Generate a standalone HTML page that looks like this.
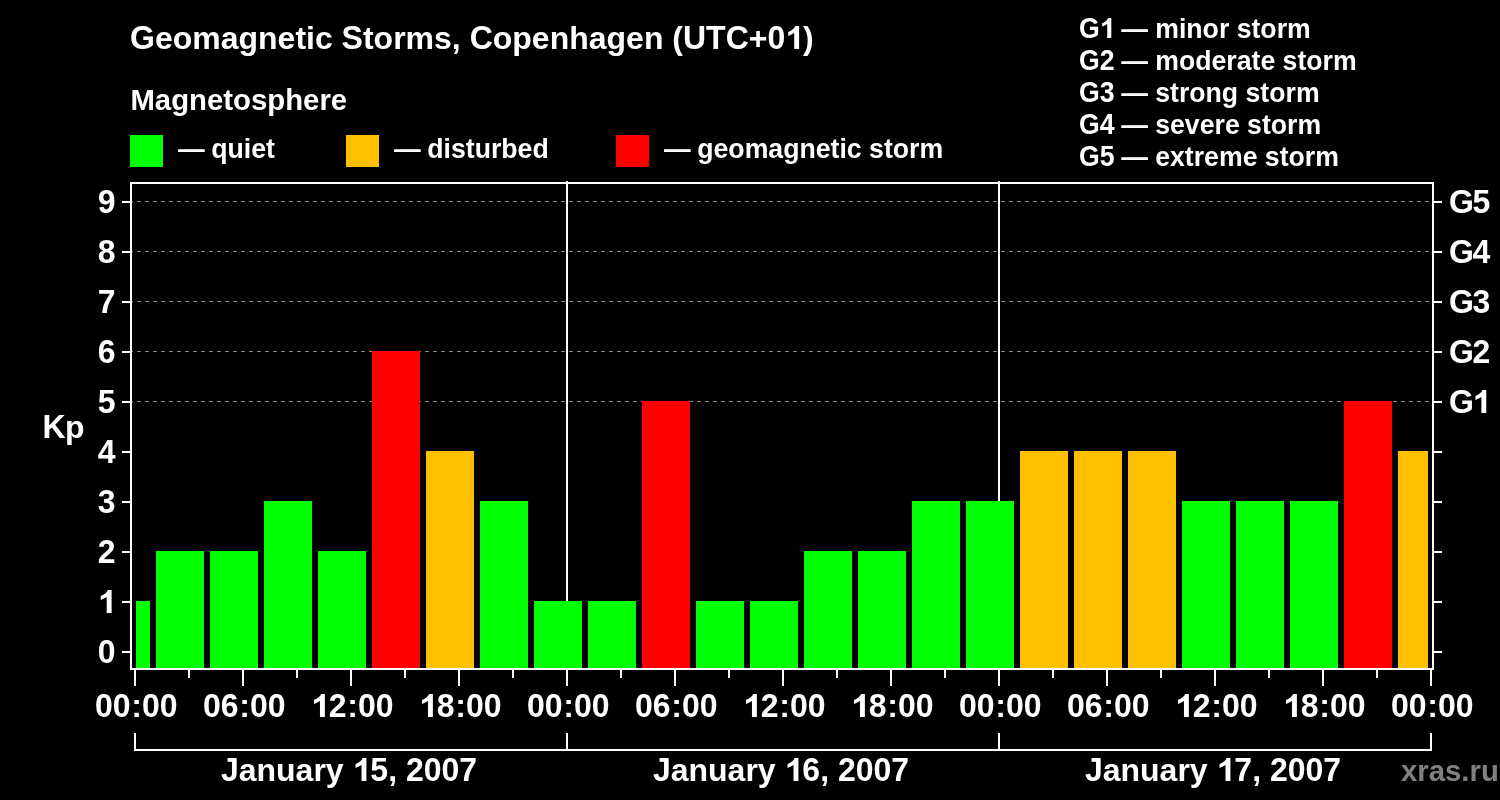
<!DOCTYPE html>
<html><head><meta charset="utf-8"><style>
html,body{margin:0;padding:0;background:#000;width:1500px;height:800px;overflow:hidden}
svg{display:block;will-change:transform}
text{font-family:'Liberation Sans',sans-serif;font-weight:bold}
</style></head><body>
<svg width="1500" height="800" viewBox="0 0 1500 800" shape-rendering="crispEdges">
<line x1="130" y1="401.5" x2="1432" y2="401.5" stroke="#888" stroke-width="1" stroke-dasharray="4 4" stroke-dashoffset="-7"/>
<line x1="130" y1="351.5" x2="1432" y2="351.5" stroke="#888" stroke-width="1" stroke-dasharray="4 4" stroke-dashoffset="-7"/>
<line x1="130" y1="301.5" x2="1432" y2="301.5" stroke="#888" stroke-width="1" stroke-dasharray="4 4" stroke-dashoffset="-7"/>
<line x1="130" y1="251.5" x2="1432" y2="251.5" stroke="#888" stroke-width="1" stroke-dasharray="4 4" stroke-dashoffset="-7"/>
<line x1="130" y1="201.5" x2="1432" y2="201.5" stroke="#888" stroke-width="1" stroke-dasharray="4 4" stroke-dashoffset="-7"/>
<rect x="566" y="181" width="2" height="487" fill="#ffffff"/>
<rect x="998" y="181" width="2" height="487" fill="#ffffff"/>
<rect x="136" y="601" width="14" height="67" fill="#00ff00"/>
<rect x="156" y="551" width="48" height="117" fill="#00ff00"/>
<rect x="210" y="551" width="48" height="117" fill="#00ff00"/>
<rect x="264" y="501" width="48" height="167" fill="#00ff00"/>
<rect x="318" y="551" width="48" height="117" fill="#00ff00"/>
<rect x="372" y="351" width="48" height="317" fill="#ff0000"/>
<rect x="426" y="451" width="48" height="217" fill="#ffc000"/>
<rect x="480" y="501" width="48" height="167" fill="#00ff00"/>
<rect x="534" y="601" width="48" height="67" fill="#00ff00"/>
<rect x="588" y="601" width="48" height="67" fill="#00ff00"/>
<rect x="642" y="401" width="48" height="267" fill="#ff0000"/>
<rect x="696" y="601" width="48" height="67" fill="#00ff00"/>
<rect x="750" y="601" width="48" height="67" fill="#00ff00"/>
<rect x="804" y="551" width="48" height="117" fill="#00ff00"/>
<rect x="858" y="551" width="48" height="117" fill="#00ff00"/>
<rect x="912" y="501" width="48" height="167" fill="#00ff00"/>
<rect x="966" y="501" width="48" height="167" fill="#00ff00"/>
<rect x="1020" y="451" width="48" height="217" fill="#ffc000"/>
<rect x="1074" y="451" width="48" height="217" fill="#ffc000"/>
<rect x="1128" y="451" width="48" height="217" fill="#ffc000"/>
<rect x="1182" y="501" width="48" height="167" fill="#00ff00"/>
<rect x="1236" y="501" width="48" height="167" fill="#00ff00"/>
<rect x="1290" y="501" width="48" height="167" fill="#00ff00"/>
<rect x="1344" y="401" width="48" height="267" fill="#ff0000"/>
<rect x="1398" y="451" width="30" height="217" fill="#ffc000"/>
<rect x="130" y="182" width="1304" height="2" fill="#ffffff"/>
<rect x="130" y="668" width="1304" height="2" fill="#ffffff"/>
<rect x="130" y="182" width="2" height="488" fill="#ffffff"/>
<rect x="1432" y="182" width="2" height="488" fill="#ffffff"/>
<rect x="122" y="651" width="8" height="2" fill="#ffffff"/>
<rect x="1434" y="651" width="8" height="2" fill="#ffffff"/>
<rect x="122" y="601" width="8" height="2" fill="#ffffff"/>
<rect x="1434" y="601" width="8" height="2" fill="#ffffff"/>
<rect x="122" y="551" width="8" height="2" fill="#ffffff"/>
<rect x="1434" y="551" width="8" height="2" fill="#ffffff"/>
<rect x="122" y="501" width="8" height="2" fill="#ffffff"/>
<rect x="1434" y="501" width="8" height="2" fill="#ffffff"/>
<rect x="122" y="451" width="8" height="2" fill="#ffffff"/>
<rect x="1434" y="451" width="8" height="2" fill="#ffffff"/>
<rect x="122" y="401" width="8" height="2" fill="#ffffff"/>
<rect x="1434" y="401" width="8" height="2" fill="#ffffff"/>
<rect x="122" y="351" width="8" height="2" fill="#ffffff"/>
<rect x="1434" y="351" width="8" height="2" fill="#ffffff"/>
<rect x="122" y="301" width="8" height="2" fill="#ffffff"/>
<rect x="1434" y="301" width="8" height="2" fill="#ffffff"/>
<rect x="122" y="251" width="8" height="2" fill="#ffffff"/>
<rect x="1434" y="251" width="8" height="2" fill="#ffffff"/>
<rect x="122" y="201" width="8" height="2" fill="#ffffff"/>
<rect x="1434" y="201" width="8" height="2" fill="#ffffff"/>
<rect x="134" y="670" width="2" height="16" fill="#ffffff"/>
<rect x="188" y="670" width="2" height="8" fill="#ffffff"/>
<rect x="242" y="670" width="2" height="16" fill="#ffffff"/>
<rect x="296" y="670" width="2" height="8" fill="#ffffff"/>
<rect x="350" y="670" width="2" height="16" fill="#ffffff"/>
<rect x="404" y="670" width="2" height="8" fill="#ffffff"/>
<rect x="458" y="670" width="2" height="16" fill="#ffffff"/>
<rect x="512" y="670" width="2" height="8" fill="#ffffff"/>
<rect x="566" y="670" width="2" height="16" fill="#ffffff"/>
<rect x="620" y="670" width="2" height="8" fill="#ffffff"/>
<rect x="674" y="670" width="2" height="16" fill="#ffffff"/>
<rect x="728" y="670" width="2" height="8" fill="#ffffff"/>
<rect x="782" y="670" width="2" height="16" fill="#ffffff"/>
<rect x="836" y="670" width="2" height="8" fill="#ffffff"/>
<rect x="890" y="670" width="2" height="16" fill="#ffffff"/>
<rect x="944" y="670" width="2" height="8" fill="#ffffff"/>
<rect x="998" y="670" width="2" height="16" fill="#ffffff"/>
<rect x="1052" y="670" width="2" height="8" fill="#ffffff"/>
<rect x="1106" y="670" width="2" height="16" fill="#ffffff"/>
<rect x="1160" y="670" width="2" height="8" fill="#ffffff"/>
<rect x="1214" y="670" width="2" height="16" fill="#ffffff"/>
<rect x="1268" y="670" width="2" height="8" fill="#ffffff"/>
<rect x="1322" y="670" width="2" height="16" fill="#ffffff"/>
<rect x="1376" y="670" width="2" height="8" fill="#ffffff"/>
<rect x="1430" y="670" width="2" height="16" fill="#ffffff"/>
<rect x="134" y="749" width="1298" height="2" fill="#ffffff"/>
<rect x="134" y="733" width="2" height="18" fill="#ffffff"/>
<rect x="566" y="733" width="2" height="18" fill="#ffffff"/>
<rect x="998" y="733" width="2" height="18" fill="#ffffff"/>
<rect x="1430" y="733" width="2" height="18" fill="#ffffff"/>
<rect x="130" y="135" width="33" height="32" fill="#00ff00"/>
<rect x="346" y="135" width="33" height="32" fill="#ffc000"/>
<rect x="616" y="135" width="33" height="32" fill="#ff0000"/>
<text transform="translate(130,49) scale(1,1.04)" font-size="32" fill="#ffffff">G</text>
<text transform="translate(154.891,49) scale(1,0.98)" font-size="32" fill="#ffffff">e</text>
<text transform="translate(172.688,49) scale(1,0.98)" font-size="32" fill="#ffffff">o</text>
<text transform="translate(192.234,49) scale(1,0.98)" font-size="32" fill="#ffffff">m</text>
<text transform="translate(220.688,49) scale(1,0.98)" font-size="32" fill="#ffffff">a</text>
<text transform="translate(238.484,49) scale(1,0.98)" font-size="32" fill="#ffffff">g</text>
<text transform="translate(258.031,49) scale(1,0.98)" font-size="32" fill="#ffffff">n</text>
<text transform="translate(277.578,49) scale(1,0.98)" font-size="32" fill="#ffffff">e</text>
<text transform="translate(295.375,49) scale(1,0.98)" font-size="32" fill="#ffffff">t</text>
<text transform="translate(306.031,49) scale(1,0.98)" font-size="32" fill="#ffffff">i</text>
<text transform="translate(314.922,49) scale(1,0.98)" font-size="32" fill="#ffffff">c</text>
<text transform="translate(341.609,49) scale(1,1.04)" font-size="32" fill="#ffffff">S</text>
<text transform="translate(362.953,49) scale(1,0.98)" font-size="32" fill="#ffffff">t</text>
<text transform="translate(373.609,49) scale(1,0.98)" font-size="32" fill="#ffffff">o</text>
<text transform="translate(393.156,49) scale(1,0.98)" font-size="32" fill="#ffffff">r</text>
<text transform="translate(405.609,49) scale(1,0.98)" font-size="32" fill="#ffffff">m</text>
<text transform="translate(434.062,49) scale(1,0.98)" font-size="32" fill="#ffffff">s</text>
<text transform="translate(451.859,49) scale(1,0.98)" font-size="32" fill="#ffffff">,</text>
<text transform="translate(469.641,49) scale(1,1.04)" font-size="32" fill="#ffffff">C</text>
<text transform="translate(492.75,49) scale(1,0.98)" font-size="32" fill="#ffffff">o</text>
<text transform="translate(512.297,49) scale(1,0.98)" font-size="32" fill="#ffffff">p</text>
<text transform="translate(531.844,49) scale(1,0.98)" font-size="32" fill="#ffffff">e</text>
<text transform="translate(549.641,49) scale(1,0.98)" font-size="32" fill="#ffffff">n</text>
<text transform="translate(569.188,49) scale(1,0.98)" font-size="32" fill="#ffffff">h</text>
<text transform="translate(588.734,49) scale(1,0.98)" font-size="32" fill="#ffffff">a</text>
<text transform="translate(606.531,49) scale(1,0.98)" font-size="32" fill="#ffffff">g</text>
<text transform="translate(626.078,49) scale(1,0.98)" font-size="32" fill="#ffffff">e</text>
<text transform="translate(643.875,49) scale(1,0.98)" font-size="32" fill="#ffffff">n</text>
<text transform="translate(672.312,49) scale(1,0.98)" font-size="32" fill="#ffffff">(</text>
<text transform="translate(682.969,49) scale(1,1.04)" font-size="32" fill="#ffffff">U</text>
<text transform="translate(706.078,49) scale(1,1.04)" font-size="32" fill="#ffffff">T</text>
<text transform="translate(725.625,49) scale(1,1.04)" font-size="32" fill="#ffffff">C</text>
<text transform="translate(748.734,49) scale(1,0.98)" font-size="32" fill="#ffffff">+</text>
<text transform="translate(767.422,49) scale(1,1.04)" font-size="32" fill="#ffffff">0</text>
<path transform="translate(785.219,49) scale(0.01562,-0.01625)" fill="#ffffff" shape-rendering="geometricPrecision" d="M575,0L890,0L890,1409L650,1409Q560,1180 194,1040L194,800Q420,880 575,980Z"/>
<text transform="translate(803.016,49) scale(1,0.98)" font-size="32" fill="#ffffff">)</text>
<text transform="translate(130.4,110) scale(1,0.99)" font-size="29.333" fill="#ffffff">M</text>
<text transform="translate(154.822,110) scale(1,0.98)" font-size="29.333" fill="#ffffff">a</text>
<text transform="translate(171.134,110) scale(1,0.98)" font-size="29.333" fill="#ffffff">g</text>
<text transform="translate(189.056,110) scale(1,0.98)" font-size="29.333" fill="#ffffff">n</text>
<text transform="translate(206.963,110) scale(1,0.98)" font-size="29.333" fill="#ffffff">e</text>
<text transform="translate(223.275,110) scale(1,0.98)" font-size="29.333" fill="#ffffff">t</text>
<text transform="translate(233.041,110) scale(1,0.98)" font-size="29.333" fill="#ffffff">o</text>
<text transform="translate(250.963,110) scale(1,0.98)" font-size="29.333" fill="#ffffff">s</text>
<text transform="translate(267.259,110) scale(1,0.98)" font-size="29.333" fill="#ffffff">p</text>
<text transform="translate(285.181,110) scale(1,0.98)" font-size="29.333" fill="#ffffff">h</text>
<text transform="translate(303.103,110) scale(1,0.98)" font-size="29.333" fill="#ffffff">e</text>
<text transform="translate(319.4,110) scale(1,0.98)" font-size="29.333" fill="#ffffff">r</text>
<text transform="translate(330.822,110) scale(1,0.98)" font-size="29.333" fill="#ffffff">e</text>
<text transform="translate(178,158) scale(1,1.05)" font-size="26.667" fill="#ffffff">—</text>
<text transform="translate(211.247,158) scale(1,1.05)" font-size="26.667" fill="#ffffff">q</text>
<text transform="translate(227.544,158) scale(1,1.05)" font-size="26.667" fill="#ffffff">u</text>
<text transform="translate(243.825,158) scale(1,1.05)" font-size="26.667" fill="#ffffff">i</text>
<text transform="translate(251.231,158) scale(1,1.05)" font-size="26.667" fill="#ffffff">e</text>
<text transform="translate(266.044,158) scale(1,1.05)" font-size="26.667" fill="#ffffff">t</text>
<text transform="translate(394,158) scale(1,1.05)" font-size="26.667" fill="#ffffff">—</text>
<text transform="translate(427.247,158) scale(1,1.05)" font-size="26.667" fill="#ffffff">d</text>
<text transform="translate(443.544,158) scale(1,1.05)" font-size="26.667" fill="#ffffff">i</text>
<text transform="translate(450.95,158) scale(1,1.05)" font-size="26.667" fill="#ffffff">s</text>
<text transform="translate(465.762,158) scale(1,1.05)" font-size="26.667" fill="#ffffff">t</text>
<text transform="translate(474.637,158) scale(1,1.05)" font-size="26.667" fill="#ffffff">u</text>
<text transform="translate(490.934,158) scale(1,1.05)" font-size="26.667" fill="#ffffff">r</text>
<text transform="translate(501.294,158) scale(1,1.05)" font-size="26.667" fill="#ffffff">b</text>
<text transform="translate(517.591,158) scale(1,1.05)" font-size="26.667" fill="#ffffff">e</text>
<text transform="translate(532.403,158) scale(1,1.05)" font-size="26.667" fill="#ffffff">d</text>
<text transform="translate(664,158) scale(1,1.05)" font-size="26.667" fill="#ffffff">—</text>
<text transform="translate(697.247,158) scale(1,1.05)" font-size="26.667" fill="#ffffff">g</text>
<text transform="translate(713.544,158) scale(1,1.05)" font-size="26.667" fill="#ffffff">e</text>
<text transform="translate(728.356,158) scale(1,1.05)" font-size="26.667" fill="#ffffff">o</text>
<text transform="translate(744.638,158) scale(1,1.05)" font-size="26.667" fill="#ffffff">m</text>
<text transform="translate(768.341,158) scale(1,1.05)" font-size="26.667" fill="#ffffff">a</text>
<text transform="translate(783.169,158) scale(1,1.05)" font-size="26.667" fill="#ffffff">g</text>
<text transform="translate(799.45,158) scale(1,1.05)" font-size="26.667" fill="#ffffff">n</text>
<text transform="translate(815.731,158) scale(1,1.05)" font-size="26.667" fill="#ffffff">e</text>
<text transform="translate(830.559,158) scale(1,1.05)" font-size="26.667" fill="#ffffff">t</text>
<text transform="translate(839.434,158) scale(1,1.05)" font-size="26.667" fill="#ffffff">i</text>
<text transform="translate(846.841,158) scale(1,1.05)" font-size="26.667" fill="#ffffff">c</text>
<text transform="translate(869.075,158) scale(1,1.05)" font-size="26.667" fill="#ffffff">s</text>
<text transform="translate(883.903,158) scale(1,1.05)" font-size="26.667" fill="#ffffff">t</text>
<text transform="translate(892.778,158) scale(1,1.05)" font-size="26.667" fill="#ffffff">o</text>
<text transform="translate(909.059,158) scale(1,1.05)" font-size="26.667" fill="#ffffff">r</text>
<text transform="translate(919.434,158) scale(1,1.05)" font-size="26.667" fill="#ffffff">m</text>
<text transform="translate(1079,38) scale(1,1.09)" font-size="26.667" fill="#ffffff">G</text>
<path transform="translate(1099.719,38) scale(0.01302,-0.01419)" fill="#ffffff" shape-rendering="geometricPrecision" d="M575,0L890,0L890,1409L650,1409Q560,1180 194,1040L194,800Q420,880 575,980Z"/>
<text transform="translate(1121.153,38) scale(1,1.047)" font-size="26.667" fill="#ffffff">—</text>
<text transform="translate(1155.216,38) scale(1,1.047)" font-size="26.667" fill="#ffffff">m</text>
<text transform="translate(1178.919,38) scale(1,1.047)" font-size="26.667" fill="#ffffff">i</text>
<text transform="translate(1186.325,38) scale(1,1.047)" font-size="26.667" fill="#ffffff">n</text>
<text transform="translate(1202.606,38) scale(1,1.047)" font-size="26.667" fill="#ffffff">o</text>
<text transform="translate(1218.888,38) scale(1,1.047)" font-size="26.667" fill="#ffffff">r</text>
<text transform="translate(1236.669,38) scale(1,1.047)" font-size="26.667" fill="#ffffff">s</text>
<text transform="translate(1251.497,38) scale(1,1.047)" font-size="26.667" fill="#ffffff">t</text>
<text transform="translate(1260.372,38) scale(1,1.047)" font-size="26.667" fill="#ffffff">o</text>
<text transform="translate(1276.653,38) scale(1,1.047)" font-size="26.667" fill="#ffffff">r</text>
<text transform="translate(1287.028,38) scale(1,1.047)" font-size="26.667" fill="#ffffff">m</text>
<text transform="translate(1079,70) scale(1,1.09)" font-size="26.667" fill="#ffffff">G</text>
<text transform="translate(1099.719,70) scale(1,1.09)" font-size="26.667" fill="#ffffff">2</text>
<text transform="translate(1121.153,70) scale(1,1.047)" font-size="26.667" fill="#ffffff">—</text>
<text transform="translate(1155.216,70) scale(1,1.047)" font-size="26.667" fill="#ffffff">m</text>
<text transform="translate(1178.919,70) scale(1,1.047)" font-size="26.667" fill="#ffffff">o</text>
<text transform="translate(1195.2,70) scale(1,1.047)" font-size="26.667" fill="#ffffff">d</text>
<text transform="translate(1211.481,70) scale(1,1.047)" font-size="26.667" fill="#ffffff">e</text>
<text transform="translate(1226.309,70) scale(1,1.047)" font-size="26.667" fill="#ffffff">r</text>
<text transform="translate(1236.684,70) scale(1,1.047)" font-size="26.667" fill="#ffffff">a</text>
<text transform="translate(1251.513,70) scale(1,1.047)" font-size="26.667" fill="#ffffff">t</text>
<text transform="translate(1260.388,70) scale(1,1.047)" font-size="26.667" fill="#ffffff">e</text>
<text transform="translate(1282.622,70) scale(1,1.047)" font-size="26.667" fill="#ffffff">s</text>
<text transform="translate(1297.45,70) scale(1,1.047)" font-size="26.667" fill="#ffffff">t</text>
<text transform="translate(1306.325,70) scale(1,1.047)" font-size="26.667" fill="#ffffff">o</text>
<text transform="translate(1322.606,70) scale(1,1.047)" font-size="26.667" fill="#ffffff">r</text>
<text transform="translate(1332.981,70) scale(1,1.047)" font-size="26.667" fill="#ffffff">m</text>
<text transform="translate(1079,102) scale(1,1.09)" font-size="26.667" fill="#ffffff">G</text>
<text transform="translate(1099.719,102) scale(1,1.09)" font-size="26.667" fill="#ffffff">3</text>
<text transform="translate(1121.153,102) scale(1,1.047)" font-size="26.667" fill="#ffffff">—</text>
<text transform="translate(1155.216,102) scale(1,1.047)" font-size="26.667" fill="#ffffff">s</text>
<text transform="translate(1170.044,102) scale(1,1.047)" font-size="26.667" fill="#ffffff">t</text>
<text transform="translate(1178.919,102) scale(1,1.047)" font-size="26.667" fill="#ffffff">r</text>
<text transform="translate(1189.294,102) scale(1,1.047)" font-size="26.667" fill="#ffffff">o</text>
<text transform="translate(1205.575,102) scale(1,1.047)" font-size="26.667" fill="#ffffff">n</text>
<text transform="translate(1221.856,102) scale(1,1.047)" font-size="26.667" fill="#ffffff">g</text>
<text transform="translate(1245.544,102) scale(1,1.047)" font-size="26.667" fill="#ffffff">s</text>
<text transform="translate(1260.372,102) scale(1,1.047)" font-size="26.667" fill="#ffffff">t</text>
<text transform="translate(1269.247,102) scale(1,1.047)" font-size="26.667" fill="#ffffff">o</text>
<text transform="translate(1285.528,102) scale(1,1.047)" font-size="26.667" fill="#ffffff">r</text>
<text transform="translate(1295.903,102) scale(1,1.047)" font-size="26.667" fill="#ffffff">m</text>
<text transform="translate(1079,134) scale(1,1.09)" font-size="26.667" fill="#ffffff">G</text>
<text transform="translate(1099.719,134) scale(1,1.09)" font-size="26.667" fill="#ffffff">4</text>
<text transform="translate(1121.153,134) scale(1,1.047)" font-size="26.667" fill="#ffffff">—</text>
<text transform="translate(1155.216,134) scale(1,1.047)" font-size="26.667" fill="#ffffff">s</text>
<text transform="translate(1170.044,134) scale(1,1.047)" font-size="26.667" fill="#ffffff">e</text>
<text transform="translate(1184.872,134) scale(1,1.047)" font-size="26.667" fill="#ffffff">v</text>
<text transform="translate(1199.7,134) scale(1,1.047)" font-size="26.667" fill="#ffffff">e</text>
<text transform="translate(1214.513,134) scale(1,1.047)" font-size="26.667" fill="#ffffff">r</text>
<text transform="translate(1224.888,134) scale(1,1.047)" font-size="26.667" fill="#ffffff">e</text>
<text transform="translate(1247.122,134) scale(1,1.047)" font-size="26.667" fill="#ffffff">s</text>
<text transform="translate(1261.95,134) scale(1,1.047)" font-size="26.667" fill="#ffffff">t</text>
<text transform="translate(1270.825,134) scale(1,1.047)" font-size="26.667" fill="#ffffff">o</text>
<text transform="translate(1287.106,134) scale(1,1.047)" font-size="26.667" fill="#ffffff">r</text>
<text transform="translate(1297.481,134) scale(1,1.047)" font-size="26.667" fill="#ffffff">m</text>
<text transform="translate(1079,166) scale(1,1.09)" font-size="26.667" fill="#ffffff">G</text>
<text transform="translate(1099.719,166) scale(1,1.09)" font-size="26.667" fill="#ffffff">5</text>
<text transform="translate(1121.153,166) scale(1,1.047)" font-size="26.667" fill="#ffffff">—</text>
<text transform="translate(1155.216,166) scale(1,1.047)" font-size="26.667" fill="#ffffff">e</text>
<text transform="translate(1170.044,166) scale(1,1.047)" font-size="26.667" fill="#ffffff">x</text>
<text transform="translate(1184.872,166) scale(1,1.047)" font-size="26.667" fill="#ffffff">t</text>
<text transform="translate(1193.747,166) scale(1,1.047)" font-size="26.667" fill="#ffffff">r</text>
<text transform="translate(1204.122,166) scale(1,1.047)" font-size="26.667" fill="#ffffff">e</text>
<text transform="translate(1218.95,166) scale(1,1.047)" font-size="26.667" fill="#ffffff">m</text>
<text transform="translate(1242.653,166) scale(1,1.047)" font-size="26.667" fill="#ffffff">e</text>
<text transform="translate(1264.872,166) scale(1,1.047)" font-size="26.667" fill="#ffffff">s</text>
<text transform="translate(1279.7,166) scale(1,1.047)" font-size="26.667" fill="#ffffff">t</text>
<text transform="translate(1288.575,166) scale(1,1.047)" font-size="26.667" fill="#ffffff">o</text>
<text transform="translate(1304.856,166) scale(1,1.047)" font-size="26.667" fill="#ffffff">r</text>
<text transform="translate(1315.231,166) scale(1,1.047)" font-size="26.667" fill="#ffffff">m</text>
<text transform="translate(97.703,663) scale(1,1.04)" font-size="32" fill="#ffffff">0</text>
<path transform="translate(97.703,613) scale(0.01562,-0.01625)" fill="#ffffff" shape-rendering="geometricPrecision" d="M575,0L890,0L890,1409L650,1409Q560,1180 194,1040L194,800Q420,880 575,980Z"/>
<text transform="translate(97.703,563) scale(1,1.04)" font-size="32" fill="#ffffff">2</text>
<text transform="translate(97.703,513) scale(1,1.04)" font-size="32" fill="#ffffff">3</text>
<text transform="translate(97.703,463) scale(1,1.04)" font-size="32" fill="#ffffff">4</text>
<text transform="translate(97.703,413) scale(1,1.04)" font-size="32" fill="#ffffff">5</text>
<text transform="translate(97.703,363) scale(1,1.04)" font-size="32" fill="#ffffff">6</text>
<text transform="translate(97.703,313) scale(1,1.04)" font-size="32" fill="#ffffff">7</text>
<text transform="translate(97.703,263) scale(1,1.04)" font-size="32" fill="#ffffff">8</text>
<text transform="translate(97.703,213) scale(1,1.04)" font-size="32" fill="#ffffff">9</text>
<text transform="translate(42.5,438) scale(1,1.04)" font-size="32" fill="#ffffff">K</text>
<text transform="translate(65.109,438) scale(1,0.98)" font-size="32" fill="#ffffff">p</text>
<text transform="translate(1449,413) scale(1,1.04)" font-size="32" fill="#ffffff">G</text>
<path transform="translate(1472.391,413) scale(0.01562,-0.01625)" fill="#ffffff" shape-rendering="geometricPrecision" d="M575,0L890,0L890,1409L650,1409Q560,1180 194,1040L194,800Q420,880 575,980Z"/>
<text transform="translate(1449,363) scale(1,1.04)" font-size="32" fill="#ffffff">G</text>
<text transform="translate(1472.391,363) scale(1,1.04)" font-size="32" fill="#ffffff">2</text>
<text transform="translate(1449,313) scale(1,1.04)" font-size="32" fill="#ffffff">G</text>
<text transform="translate(1472.391,313) scale(1,1.04)" font-size="32" fill="#ffffff">3</text>
<text transform="translate(1449,263) scale(1,1.04)" font-size="32" fill="#ffffff">G</text>
<text transform="translate(1472.391,263) scale(1,1.04)" font-size="32" fill="#ffffff">4</text>
<text transform="translate(1449,213) scale(1,1.04)" font-size="32" fill="#ffffff">G</text>
<text transform="translate(1472.391,213) scale(1,1.04)" font-size="32" fill="#ffffff">5</text>
<text transform="translate(94.978,717) scale(1,1.04)" font-size="32" fill="#ffffff">0</text>
<text transform="translate(112.775,717) scale(1,1.04)" font-size="32" fill="#ffffff">0</text>
<path transform="translate(131.272,717) scale(0.01562,-0.01562)" fill="#ffffff" shape-rendering="geometricPrecision" d="M197,0H485V265H197ZM197,830H485V1095H197Z"/>
<text transform="translate(141.928,717) scale(1,1.04)" font-size="32" fill="#ffffff">0</text>
<text transform="translate(159.725,717) scale(1,1.04)" font-size="32" fill="#ffffff">0</text>
<text transform="translate(202.978,717) scale(1,1.04)" font-size="32" fill="#ffffff">0</text>
<text transform="translate(220.775,717) scale(1,1.04)" font-size="32" fill="#ffffff">6</text>
<path transform="translate(239.272,717) scale(0.01562,-0.01562)" fill="#ffffff" shape-rendering="geometricPrecision" d="M197,0H485V265H197ZM197,830H485V1095H197Z"/>
<text transform="translate(249.928,717) scale(1,1.04)" font-size="32" fill="#ffffff">0</text>
<text transform="translate(267.725,717) scale(1,1.04)" font-size="32" fill="#ffffff">0</text>
<path transform="translate(310.978,717) scale(0.01562,-0.01625)" fill="#ffffff" shape-rendering="geometricPrecision" d="M575,0L890,0L890,1409L650,1409Q560,1180 194,1040L194,800Q420,880 575,980Z"/>
<text transform="translate(328.775,717) scale(1,1.04)" font-size="32" fill="#ffffff">2</text>
<path transform="translate(347.272,717) scale(0.01562,-0.01562)" fill="#ffffff" shape-rendering="geometricPrecision" d="M197,0H485V265H197ZM197,830H485V1095H197Z"/>
<text transform="translate(357.928,717) scale(1,1.04)" font-size="32" fill="#ffffff">0</text>
<text transform="translate(375.725,717) scale(1,1.04)" font-size="32" fill="#ffffff">0</text>
<path transform="translate(418.978,717) scale(0.01562,-0.01625)" fill="#ffffff" shape-rendering="geometricPrecision" d="M575,0L890,0L890,1409L650,1409Q560,1180 194,1040L194,800Q420,880 575,980Z"/>
<text transform="translate(436.775,717) scale(1,1.04)" font-size="32" fill="#ffffff">8</text>
<path transform="translate(455.272,717) scale(0.01562,-0.01562)" fill="#ffffff" shape-rendering="geometricPrecision" d="M197,0H485V265H197ZM197,830H485V1095H197Z"/>
<text transform="translate(465.928,717) scale(1,1.04)" font-size="32" fill="#ffffff">0</text>
<text transform="translate(483.725,717) scale(1,1.04)" font-size="32" fill="#ffffff">0</text>
<text transform="translate(526.978,717) scale(1,1.04)" font-size="32" fill="#ffffff">0</text>
<text transform="translate(544.775,717) scale(1,1.04)" font-size="32" fill="#ffffff">0</text>
<path transform="translate(563.272,717) scale(0.01562,-0.01562)" fill="#ffffff" shape-rendering="geometricPrecision" d="M197,0H485V265H197ZM197,830H485V1095H197Z"/>
<text transform="translate(573.928,717) scale(1,1.04)" font-size="32" fill="#ffffff">0</text>
<text transform="translate(591.725,717) scale(1,1.04)" font-size="32" fill="#ffffff">0</text>
<text transform="translate(634.978,717) scale(1,1.04)" font-size="32" fill="#ffffff">0</text>
<text transform="translate(652.775,717) scale(1,1.04)" font-size="32" fill="#ffffff">6</text>
<path transform="translate(671.272,717) scale(0.01562,-0.01562)" fill="#ffffff" shape-rendering="geometricPrecision" d="M197,0H485V265H197ZM197,830H485V1095H197Z"/>
<text transform="translate(681.928,717) scale(1,1.04)" font-size="32" fill="#ffffff">0</text>
<text transform="translate(699.725,717) scale(1,1.04)" font-size="32" fill="#ffffff">0</text>
<path transform="translate(742.978,717) scale(0.01562,-0.01625)" fill="#ffffff" shape-rendering="geometricPrecision" d="M575,0L890,0L890,1409L650,1409Q560,1180 194,1040L194,800Q420,880 575,980Z"/>
<text transform="translate(760.775,717) scale(1,1.04)" font-size="32" fill="#ffffff">2</text>
<path transform="translate(779.272,717) scale(0.01562,-0.01562)" fill="#ffffff" shape-rendering="geometricPrecision" d="M197,0H485V265H197ZM197,830H485V1095H197Z"/>
<text transform="translate(789.928,717) scale(1,1.04)" font-size="32" fill="#ffffff">0</text>
<text transform="translate(807.725,717) scale(1,1.04)" font-size="32" fill="#ffffff">0</text>
<path transform="translate(850.978,717) scale(0.01562,-0.01625)" fill="#ffffff" shape-rendering="geometricPrecision" d="M575,0L890,0L890,1409L650,1409Q560,1180 194,1040L194,800Q420,880 575,980Z"/>
<text transform="translate(868.775,717) scale(1,1.04)" font-size="32" fill="#ffffff">8</text>
<path transform="translate(887.272,717) scale(0.01562,-0.01562)" fill="#ffffff" shape-rendering="geometricPrecision" d="M197,0H485V265H197ZM197,830H485V1095H197Z"/>
<text transform="translate(897.928,717) scale(1,1.04)" font-size="32" fill="#ffffff">0</text>
<text transform="translate(915.725,717) scale(1,1.04)" font-size="32" fill="#ffffff">0</text>
<text transform="translate(958.978,717) scale(1,1.04)" font-size="32" fill="#ffffff">0</text>
<text transform="translate(976.775,717) scale(1,1.04)" font-size="32" fill="#ffffff">0</text>
<path transform="translate(995.272,717) scale(0.01562,-0.01562)" fill="#ffffff" shape-rendering="geometricPrecision" d="M197,0H485V265H197ZM197,830H485V1095H197Z"/>
<text transform="translate(1005.928,717) scale(1,1.04)" font-size="32" fill="#ffffff">0</text>
<text transform="translate(1023.725,717) scale(1,1.04)" font-size="32" fill="#ffffff">0</text>
<text transform="translate(1066.978,717) scale(1,1.04)" font-size="32" fill="#ffffff">0</text>
<text transform="translate(1084.775,717) scale(1,1.04)" font-size="32" fill="#ffffff">6</text>
<path transform="translate(1103.272,717) scale(0.01562,-0.01562)" fill="#ffffff" shape-rendering="geometricPrecision" d="M197,0H485V265H197ZM197,830H485V1095H197Z"/>
<text transform="translate(1113.928,717) scale(1,1.04)" font-size="32" fill="#ffffff">0</text>
<text transform="translate(1131.725,717) scale(1,1.04)" font-size="32" fill="#ffffff">0</text>
<path transform="translate(1174.978,717) scale(0.01562,-0.01625)" fill="#ffffff" shape-rendering="geometricPrecision" d="M575,0L890,0L890,1409L650,1409Q560,1180 194,1040L194,800Q420,880 575,980Z"/>
<text transform="translate(1192.775,717) scale(1,1.04)" font-size="32" fill="#ffffff">2</text>
<path transform="translate(1211.272,717) scale(0.01562,-0.01562)" fill="#ffffff" shape-rendering="geometricPrecision" d="M197,0H485V265H197ZM197,830H485V1095H197Z"/>
<text transform="translate(1221.928,717) scale(1,1.04)" font-size="32" fill="#ffffff">0</text>
<text transform="translate(1239.725,717) scale(1,1.04)" font-size="32" fill="#ffffff">0</text>
<path transform="translate(1282.978,717) scale(0.01562,-0.01625)" fill="#ffffff" shape-rendering="geometricPrecision" d="M575,0L890,0L890,1409L650,1409Q560,1180 194,1040L194,800Q420,880 575,980Z"/>
<text transform="translate(1300.775,717) scale(1,1.04)" font-size="32" fill="#ffffff">8</text>
<path transform="translate(1319.272,717) scale(0.01562,-0.01562)" fill="#ffffff" shape-rendering="geometricPrecision" d="M197,0H485V265H197ZM197,830H485V1095H197Z"/>
<text transform="translate(1329.928,717) scale(1,1.04)" font-size="32" fill="#ffffff">0</text>
<text transform="translate(1347.725,717) scale(1,1.04)" font-size="32" fill="#ffffff">0</text>
<text transform="translate(1390.978,717) scale(1,1.04)" font-size="32" fill="#ffffff">0</text>
<text transform="translate(1408.775,717) scale(1,1.04)" font-size="32" fill="#ffffff">0</text>
<path transform="translate(1427.272,717) scale(0.01562,-0.01562)" fill="#ffffff" shape-rendering="geometricPrecision" d="M197,0H485V265H197ZM197,830H485V1095H197Z"/>
<text transform="translate(1437.928,717) scale(1,1.04)" font-size="32" fill="#ffffff">0</text>
<text transform="translate(1455.725,717) scale(1,1.04)" font-size="32" fill="#ffffff">0</text>
<text transform="translate(220.906,781) scale(1,1.04)" font-size="32" fill="#ffffff">J</text>
<text transform="translate(238.703,781) scale(1,0.98)" font-size="32" fill="#ffffff">a</text>
<text transform="translate(256.5,781) scale(1,0.98)" font-size="32" fill="#ffffff">n</text>
<text transform="translate(276.047,781) scale(1,0.98)" font-size="32" fill="#ffffff">u</text>
<text transform="translate(295.594,781) scale(1,0.98)" font-size="32" fill="#ffffff">a</text>
<text transform="translate(313.391,781) scale(1,0.98)" font-size="32" fill="#ffffff">r</text>
<text transform="translate(325.844,781) scale(1,0.98)" font-size="32" fill="#ffffff">y</text>
<path transform="translate(352.531,781) scale(0.01562,-0.01625)" fill="#ffffff" shape-rendering="geometricPrecision" d="M575,0L890,0L890,1409L650,1409Q560,1180 194,1040L194,800Q420,880 575,980Z"/>
<text transform="translate(370.328,781) scale(1,1.04)" font-size="32" fill="#ffffff">5</text>
<text transform="translate(388.125,781) scale(1,0.98)" font-size="32" fill="#ffffff">,</text>
<text transform="translate(405.906,781) scale(1,1.04)" font-size="32" fill="#ffffff">2</text>
<text transform="translate(423.703,781) scale(1,1.04)" font-size="32" fill="#ffffff">0</text>
<text transform="translate(441.5,781) scale(1,1.04)" font-size="32" fill="#ffffff">0</text>
<text transform="translate(459.297,781) scale(1,1.04)" font-size="32" fill="#ffffff">7</text>
<text transform="translate(652.906,781) scale(1,1.04)" font-size="32" fill="#ffffff">J</text>
<text transform="translate(670.703,781) scale(1,0.98)" font-size="32" fill="#ffffff">a</text>
<text transform="translate(688.5,781) scale(1,0.98)" font-size="32" fill="#ffffff">n</text>
<text transform="translate(708.047,781) scale(1,0.98)" font-size="32" fill="#ffffff">u</text>
<text transform="translate(727.594,781) scale(1,0.98)" font-size="32" fill="#ffffff">a</text>
<text transform="translate(745.391,781) scale(1,0.98)" font-size="32" fill="#ffffff">r</text>
<text transform="translate(757.844,781) scale(1,0.98)" font-size="32" fill="#ffffff">y</text>
<path transform="translate(784.531,781) scale(0.01562,-0.01625)" fill="#ffffff" shape-rendering="geometricPrecision" d="M575,0L890,0L890,1409L650,1409Q560,1180 194,1040L194,800Q420,880 575,980Z"/>
<text transform="translate(802.328,781) scale(1,1.04)" font-size="32" fill="#ffffff">6</text>
<text transform="translate(820.125,781) scale(1,0.98)" font-size="32" fill="#ffffff">,</text>
<text transform="translate(837.906,781) scale(1,1.04)" font-size="32" fill="#ffffff">2</text>
<text transform="translate(855.703,781) scale(1,1.04)" font-size="32" fill="#ffffff">0</text>
<text transform="translate(873.5,781) scale(1,1.04)" font-size="32" fill="#ffffff">0</text>
<text transform="translate(891.297,781) scale(1,1.04)" font-size="32" fill="#ffffff">7</text>
<text transform="translate(1084.906,781) scale(1,1.04)" font-size="32" fill="#ffffff">J</text>
<text transform="translate(1102.703,781) scale(1,0.98)" font-size="32" fill="#ffffff">a</text>
<text transform="translate(1120.5,781) scale(1,0.98)" font-size="32" fill="#ffffff">n</text>
<text transform="translate(1140.047,781) scale(1,0.98)" font-size="32" fill="#ffffff">u</text>
<text transform="translate(1159.594,781) scale(1,0.98)" font-size="32" fill="#ffffff">a</text>
<text transform="translate(1177.391,781) scale(1,0.98)" font-size="32" fill="#ffffff">r</text>
<text transform="translate(1189.844,781) scale(1,0.98)" font-size="32" fill="#ffffff">y</text>
<path transform="translate(1216.531,781) scale(0.01562,-0.01625)" fill="#ffffff" shape-rendering="geometricPrecision" d="M575,0L890,0L890,1409L650,1409Q560,1180 194,1040L194,800Q420,880 575,980Z"/>
<text transform="translate(1234.328,781) scale(1,1.04)" font-size="32" fill="#ffffff">7</text>
<text transform="translate(1252.125,781) scale(1,0.98)" font-size="32" fill="#ffffff">,</text>
<text transform="translate(1269.906,781) scale(1,1.04)" font-size="32" fill="#ffffff">2</text>
<text transform="translate(1287.703,781) scale(1,1.04)" font-size="32" fill="#ffffff">0</text>
<text transform="translate(1305.5,781) scale(1,1.04)" font-size="32" fill="#ffffff">0</text>
<text transform="translate(1323.297,781) scale(1,1.04)" font-size="32" fill="#ffffff">7</text>
<text transform="translate(1401,781) scale(1,0.98)" font-size="29.333" fill="#808080">x</text>
<text transform="translate(1417.297,781) scale(1,0.98)" font-size="29.333" fill="#808080">r</text>
<text transform="translate(1428.719,781) scale(1,0.98)" font-size="29.333" fill="#808080">a</text>
<text transform="translate(1445.031,781) scale(1,0.98)" font-size="29.333" fill="#808080">s</text>
<text transform="translate(1461.344,781) scale(1,0.98)" font-size="29.333" fill="#808080">.</text>
<text transform="translate(1469.484,781) scale(1,0.98)" font-size="29.333" fill="#808080">r</text>
<text transform="translate(1480.906,781) scale(1,0.98)" font-size="29.333" fill="#808080">u</text>
</svg>
</body></html>
